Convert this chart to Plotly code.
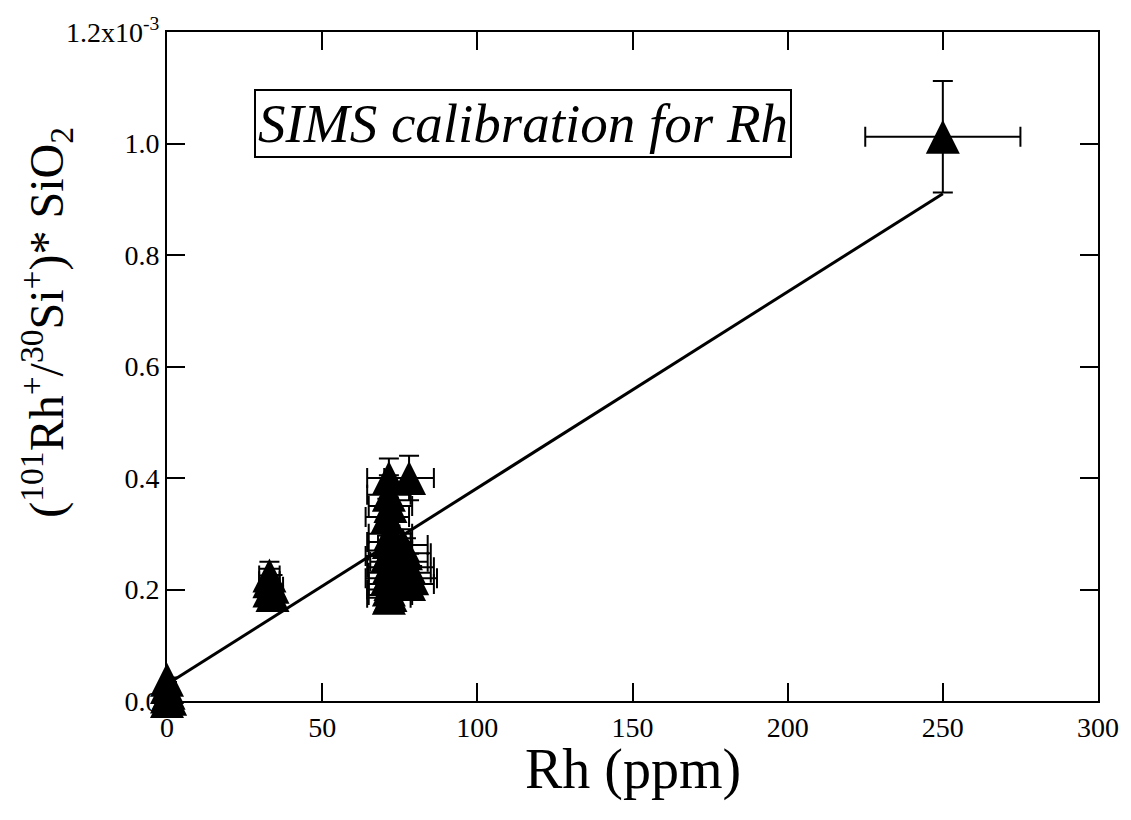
import plotly.graph_objects as go

# Rh concentration (ppm) and normalized ratio (units of 1e-3)
rh_ppm = [0, 0, 0.5, 0, 1, 0,
          33, 33, 34, 33, 34,
          71.5, 71.5, 72, 71, 72, 71.5, 72, 71, 72.5, 71.5, 72, 71, 72, 71.5, 72, 71.5,
          78, 76, 77, 76, 78, 77, 79, 78,
          250]
ratio = [0.038, 0.025, 0.015, 0.008, 0.004, 0.0,
         0.225, 0.215, 0.205, 0.198, 0.190,
         0.400, 0.370, 0.350, 0.330, 0.300, 0.285, 0.270, 0.260, 0.250, 0.240, 0.230, 0.220, 0.210, 0.200, 0.190, 0.185,
         0.400, 0.280, 0.265, 0.250, 0.240, 0.230, 0.220, 0.210,
         1.012]
rh_err = [0, 0, 0, 0, 0, 0,
          3.3, 3.3, 3.4, 3.3, 3.4,
          7.0, 7.0, 7.0, 7.0, 7.0, 7.0, 7.0, 7.0, 7.0, 7.0, 7.0, 7.0, 7.0, 7.0, 7.0, 7.0,
          8.0, 8.0, 8.0, 8.0, 8.0, 8.0, 8.0, 8.0,
          25]
ratio_err = [0.004, 0.003, 0.002, 0.001, 0.0, 0.0,
             0.025, 0.022, 0.021, 0.020, 0.019,
             0.035, 0.035, 0.035, 0.033, 0.030, 0.028, 0.027, 0.026, 0.025, 0.024, 0.023, 0.022, 0.021, 0.020, 0.019, 0.018,
             0.040, 0.028, 0.027, 0.025, 0.024, 0.023, 0.022, 0.021,
             0.100]

# calibration line
fit_x = [0, 250]
fit_y = [0.030, 0.910]

x_ticks = [0, 50, 100, 150, 200, 250, 300]
y_ticks = [0.0, 0.2, 0.4, 0.6, 0.8, 1.0, 1.2]
y_ticktext = ["0.0", "0.2", "0.4", "0.6", "0.8", "1.0", "1.2x10<sup>-3</sup>"]

FONT = "Liberation Serif"

fig = go.Figure()
fig.add_trace(go.Scatter(
    x=fit_x, y=fit_y, mode="lines",
    line=dict(color="black", width=3), cliponaxis=False, showlegend=False))
fig.add_trace(go.Scatter(
    x=rh_ppm, y=ratio, mode="markers",
    marker=dict(symbol="arrow-down", angle=180, standoff=17, size=34,
                color="black", line=dict(width=0)),
    error_x=dict(type="data", array=rh_err, color="black", thickness=2, width=10),
    error_y=dict(type="data", array=ratio_err, color="black", thickness=2, width=10),
    cliponaxis=False, showlegend=False))

axis_common = dict(
    showline=True, linecolor="black", linewidth=2, mirror="allticks",
    ticks="inside", ticklen=18, tickwidth=2, tickcolor="black",
    showgrid=False, zeroline=False,
    tickfont=dict(family=FONT, size=28, color="black"),
)
fig.update_xaxes(range=[0, 300], tickvals=x_ticks, ticktext=[str(v) for v in x_ticks],
                 **axis_common)
fig.update_yaxes(range=[0, 1.2], tickvals=y_ticks, ticktext=y_ticktext, **axis_common)

fig.add_annotation(
    text="SIMS calibration for Rh", xref="x", yref="y", x=114.7, y=1.035,
    showarrow=False, font=dict(family=FONT, size=55, color="black", style="italic"),
    bordercolor="black", borderwidth=2, borderpad=2, bgcolor="white")
fig.add_annotation(
    text="Rh (ppm)", xref="paper", yref="paper", x=0.5, y=-0.102,
    xanchor="center", yanchor="middle", showarrow=False,
    font=dict(family=FONT, size=56, color="black"))
fig.add_annotation(
    text="(<sup>101</sup>Rh<sup>+</sup>/<sup>30</sup>Si<sup>+</sup>)* SiO<sub>2</sub>",
    xref="paper", yref="paper", x=-0.1296, y=0.566, textangle=-90,
    xanchor="center", yanchor="middle", showarrow=False,
    font=dict(family=FONT, size=48, color="black"))

fig.update_layout(
    width=1131, height=820,
    margin=dict(l=167, r=33, t=32, b=119),
    plot_bgcolor="white", paper_bgcolor="white",
    font=dict(family=FONT, color="black"),
)
fig.write_html("out.html")
